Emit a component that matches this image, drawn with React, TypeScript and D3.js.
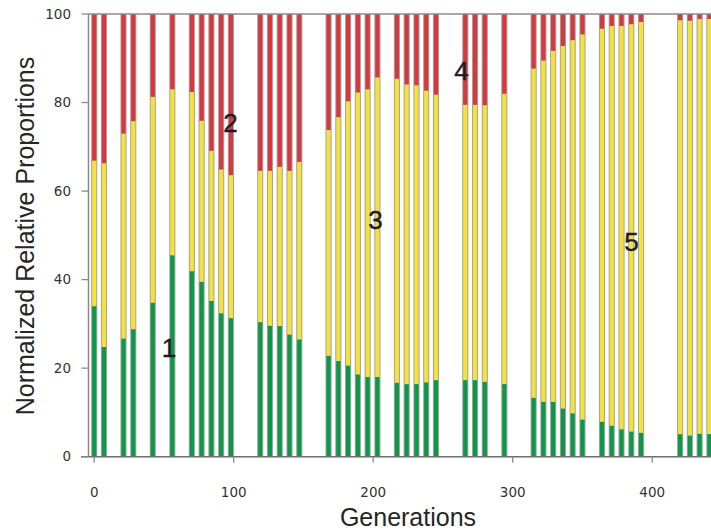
import React from "react";
import * as d3 from "d3";

// Sampling generations of each community census
const generations = [
  0, 7, 21, 28, 42, 56, 70, 77, 84, 91, 98,
  119, 126, 133, 140, 147,
  168, 175, 182, 189, 196, 203,
  217, 224, 231, 238, 245,
  266, 273, 280, 294,
  315, 322, 329, 336, 343, 350,
  364, 371, 378, 385, 392,
  420, 427, 434, 441,
];

// Normalized relative proportions (%) of the three types, bottom to top
const greenShare = [
  34.0, 24.8, 26.7, 28.8, 34.8, 45.5, 41.9, 39.5, 35.2, 32.4, 31.3,
  30.4, 29.6, 29.5, 27.6, 26.5,
  22.8, 21.6, 20.6, 18.6, 18.0, 18.0,
  16.7, 16.4, 16.4, 16.8, 17.3,
  17.3, 17.3, 16.9, 16.4,
  13.3, 12.4, 12.4, 10.9, 9.8, 8.4,
  7.9, 7.0, 6.2, 5.7, 5.4,
  5.1, 4.8, 5.2, 5.1,
];
const yellowShare = [
  32.9, 41.5, 46.3, 47.0, 46.5, 37.5, 40.5, 36.4, 33.9, 32.5, 32.3,
  34.2, 35.0, 36.0, 37.0, 40.1,
  51.0, 55.1, 59.7, 63.7, 65.0, 67.7,
  68.7, 67.7, 67.5, 65.9, 64.5,
  62.2, 62.2, 62.5, 65.6,
  74.4, 77.1, 79.3, 81.9, 84.3, 87.0,
  88.8, 90.3, 91.1, 92.0, 92.8,
  93.5, 93.7, 93.7, 93.8,
];
const redShare = [
  33.1, 33.7, 27.0, 24.2, 18.7, 17.0, 17.6, 24.1, 30.9, 35.1, 36.4,
  35.4, 35.4, 34.5, 35.4, 33.4,
  26.2, 23.3, 19.7, 17.7, 17.0, 14.3,
  14.6, 15.9, 16.1, 17.3, 18.2,
  20.5, 20.5, 20.6, 18.0,
  12.3, 10.5, 8.3, 7.2, 5.9, 4.6,
  3.3, 2.7, 2.7, 2.3, 1.8,
  1.4, 1.5, 1.1, 1.1,
];

const seriesKeys = ["green", "yellow", "red"];
const seriesColors = ["#0b9848", "#f4e23a", "#d7373d"];

const xTicks = [0, 100, 200, 300, 400];
const yTicks = [0, 20, 40, 60, 80, 100];

// Phase annotations, placed in data coordinates (generation, proportion)
const phaseLabels = ["1", "2", "3", "4", "5"];
const phaseGen = [53.6, 97.7, 201.6, 263.3, 385.2];
const phaseValue = [22.5, 73.3, 51.4, 85.0, 46.4];

const W = 711;
const H = 531;

export default function App() {
  const x = d3.scaleLinear().domain([0, 400]).range([94.2, 652.2]);
  const y = d3.scaleLinear().domain([0, 100]).range([456.7, 14]);

  const rows = generations.map((g, i) => ({
    gen: g,
    green: greenShare[i],
    yellow: yellowShare[i],
    red: redShare[i],
  }));
  const stacked = d3.stack<any>().keys(seriesKeys)(rows);

  const halfW = 2.2; // half bar width, in generations
  const axisColor = "#8a8a8a";
  const plotLeft = 88.5;

  return (
    <svg
      width={W}
      height={H}
      style={{ position: "absolute", left: 0, top: 0, background: "#fff" }}
    >
      {/* bar outlines */}
      {rows.map((r, i) => {
        const x0 = x(r.gen - halfW);
        const x1 = x(r.gen + halfW);
        return (
          <rect
            key={"o" + i}
            x={x0}
            y={y(100)}
            width={x1 - x0}
            height={y(0) - y(100)}
            fill="#a3a3a3"
          />
        );
      })}
      {/* stacked segments */}
      {stacked.map((layer, li) => (
        <g key={layer.key} fill={seriesColors[li]}>
          {layer.map((d, i) => {
            const x0 = x(rows[i].gen - halfW) + 1;
            const x1 = x(rows[i].gen + halfW) - 1;
            return (
              <rect
                key={i}
                x={x0}
                y={y(d[1])}
                width={x1 - x0}
                height={y(d[0]) - y(d[1])}
              />
            );
          })}
        </g>
      ))}

      {/* frame lines */}
      <line x1={plotLeft} x2={W} y1={y(100)} y2={y(100)} stroke={axisColor} strokeWidth={1.5} />
      <line x1={plotLeft} x2={plotLeft} y1={y(100)} y2={y(0)} stroke={axisColor} strokeWidth={1.5} />
      <line x1={81} x2={W} y1={y(0)} y2={y(0)} stroke="#6e6e6e" strokeWidth={1.5} />

      {/* y axis */}
      {yTicks.map((t) => (
        <g key={"y" + t}>
          <line x1={81.5} x2={plotLeft} y1={y(t)} y2={y(t)} stroke={axisColor} strokeWidth={1.3} />
          <text
            x={71}
            y={y(t)}
            dy="0.35em"
            textAnchor="end"
            fontFamily="DejaVu Sans, sans-serif"
            fontSize={13.5}
            fill="#333"
          >
            {t}
          </text>
        </g>
      ))}

      {/* x axis */}
      {xTicks.map((t) => (
        <g key={"x" + t}>
          <line x1={x(t)} x2={x(t)} y1={y(0)} y2={y(0) + 6} stroke={axisColor} strokeWidth={1.3} />
          <text
            x={x(t)}
            y={492}
            dy="0.35em"
            textAnchor="middle"
            fontFamily="DejaVu Sans, sans-serif"
            fontSize={13.5}
            fill="#333"
          >
            {t}
          </text>
        </g>
      ))}

      {/* axis titles */}
      <text
        x={408}
        y={526}
        textAnchor="middle"
        fontFamily="Liberation Sans, Arial, sans-serif"
        fontSize={25}
        fill="#262626"
      >
        Generations
      </text>
      <text
        transform={`translate(34,236) rotate(-90)`}
        textAnchor="middle"
        fontFamily="Liberation Sans, Arial, sans-serif"
        fontSize={25}
        fill="#262626"
      >
        Normalized Relative Proportions
      </text>

      {/* phase annotations */}
      {phaseLabels.map((lab, i) => (
        <text
          key={"p" + lab}
          x={x(phaseGen[i])}
          y={y(phaseValue[i])}
          textAnchor="middle"
          fontFamily="Liberation Sans, Arial, sans-serif"
          fontSize={26}
          fill="#1c1c28"
          stroke="#1c1c28"
          strokeWidth={0.4}
        >
          {lab}
        </text>
      ))}
    </svg>
  );
}
